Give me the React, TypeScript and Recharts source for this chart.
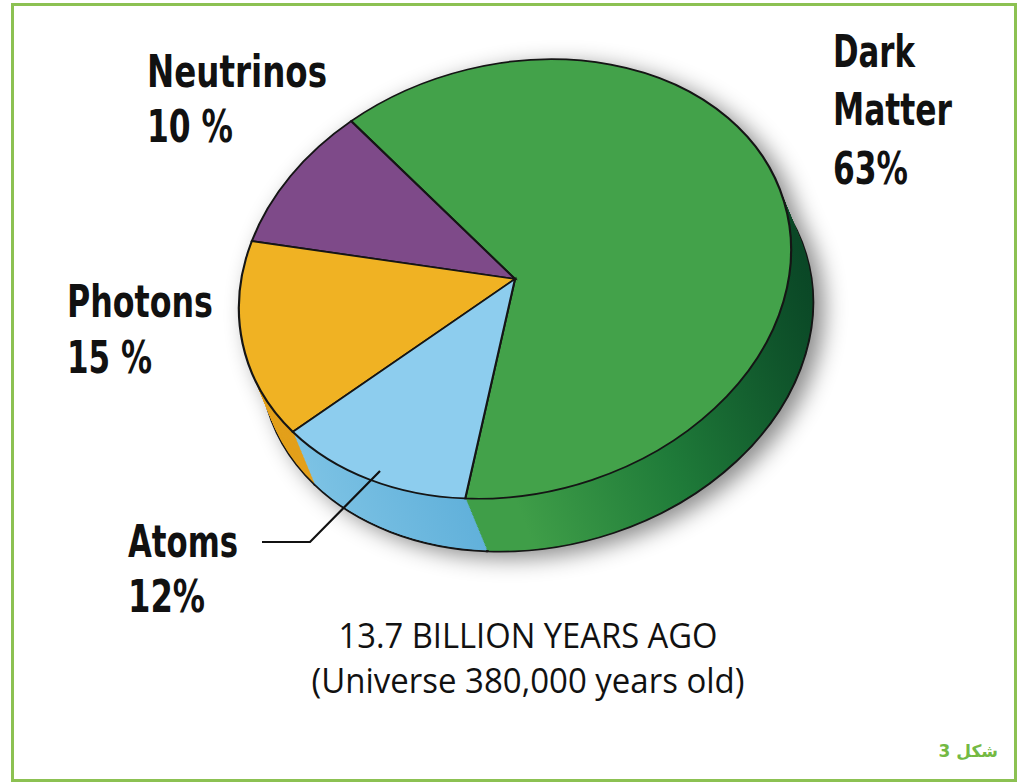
import React from 'react';
import { PieChart, Pie, Cell } from 'recharts';

// chart data
const categories = ['Dark Matter', 'Neutrinos', 'Photons', 'Atoms'];
const shares = [63, 10, 15, 12];
const labelLines = [
  ['Dark', 'Matter', '63%'],
  ['Neutrinos', '10 %'],
  ['Photons', '15 %'],
  ['Atoms', '12%'],
];
const captionLines = ['13.7 BILLION YEARS AGO', '(Universe 380,000 years old)'];
const figureTag = 'شكل 3';

// colours
const topColors = ['#43a24a', '#7e4a89', '#f0b223', '#8dcdee'];
const sideFills = ['url(#sideDark)', '#5c2c67', '#e3a01c', 'url(#sideAtoms)'];

const data = categories.map((name, i) => ({ name, value: shares[i] }));

// layout
const CX = 515;
const CY = 279;
const BOX_W = 700;
const BOX_H = 720;
const PCX = 350;
const PCY = 300;
const R = 280;
const DEPTH_X = 7.5;
const DEPTH_Y = 74;
const STEPS = 40;

const labelLayout = [
  { x: 833, ys: [67, 125, 184], widths: [82, 119, 75] },
  { x: 147, ys: [87, 142], widths: [180, 86] },
  { x: 67, ys: [317, 373], widths: [146, 85] },
  { x: 128, ys: [557, 612], widths: [110, 77] },
];

const labelFont = "'Liberation Sans Narrow', 'DejaVu Sans Condensed', 'Roboto', sans-serif";

export default function App() {
  // stacked copies of the pie build the side wall, bottom first
  const layers = Array.from({ length: STEPS }, (_, i) => 1 - i / (STEPS - 1));

  return (
    <div
      style={{
        position: 'absolute',
        left: 0,
        top: 0,
        width: 1020,
        height: 782,
        background: '#fff',
        overflow: 'hidden',
      }}
    >
      <div
        style={{
          position: 'absolute',
          left: 11,
          top: 3,
          width: 1006,
          height: 779,
          border: '3px solid #8cc152',
          boxSizing: 'border-box',
        }}
      />

      <div style={{ position: 'absolute', left: 0, top: 0, filter: 'drop-shadow(10px 6px 11px rgba(0,0,0,0.45))' }}>
        <div
          style={{
            position: 'absolute',
            left: CX - PCX,
            top: CY - PCY,
            width: BOX_W,
            height: BOX_H,
            transform: 'rotate(-15deg) scaleY(0.767)',
            transformOrigin: `${PCX}px ${PCY}px`,
          }}
        >
          <PieChart width={BOX_W} height={BOX_H} margin={{ top: 0, right: 0, bottom: 0, left: 0 }}>
            <defs>
              <linearGradient id="sideDark" x1="0" y1="0" x2="1" y2="0">
                <stop offset="0.15" stopColor="#3f9e48" />
                <stop offset="0.55" stopColor="#1f7b39" />
                <stop offset="1" stopColor="#0a4726" />
              </linearGradient>
              <linearGradient id="sideAtoms" x1="0" y1="0" x2="1" y2="0">
                <stop offset="0" stopColor="#7cc2e4" />
                <stop offset="1" stopColor="#4fa5d4" />
              </linearGradient>
            </defs>
            {layers.map((t, li) => (
              <Pie
                key={`side-${li}`}
                data={data}
                dataKey="value"
                cx={PCX + DEPTH_X * t}
                cy={PCY + DEPTH_Y * t}
                outerRadius={R}
                startAngle={-112}
                endAngle={248}
                stroke={li === 0 ? '#151515' : 'none'}
                strokeWidth={li === 0 ? 2.4 : 0}
                isAnimationActive={false}
              >
                {data.map((d, i) => (
                  <Cell key={d.name} fill={sideFills[i]} />
                ))}
              </Pie>
            ))}
            <Pie
              data={data}
              dataKey="value"
              cx={PCX}
              cy={PCY}
              outerRadius={R}
              startAngle={-112}
              endAngle={248}
              stroke="#151515"
              strokeWidth={2.2}
              isAnimationActive={false}
            >
              {data.map((d, i) => (
                <Cell key={d.name} fill={topColors[i]} />
              ))}
            </Pie>
          </PieChart>
        </div>
      </div>

      <svg width={1020} height={782} style={{ position: 'absolute', left: 0, top: 0 }}>
        <polyline points="262,542 310,542 380,471" fill="none" stroke="#111" strokeWidth={2.2} />
        {labelLines.map((lines, i) =>
          lines.map((line, j) => (
            <text
              key={`${i}-${j}`}
              x={labelLayout[i].x}
              y={labelLayout[i].ys[j]}
              fontFamily={labelFont}
              fontWeight="bold"
              fontSize={45}
              fill="#111"
              textLength={labelLayout[i].widths[j]}
              lengthAdjust="spacingAndGlyphs"
            >
              {line}
            </text>
          ))
        )}
        {captionLines.map((line, j) => (
          <text
            key={line}
            x={528}
            y={648 + j * 45}
            textAnchor="middle"
            fontFamily="'Open Sans', 'Noto Sans', sans-serif"
            fontSize={34}
            fill="#111"
            textLength={j === 0 ? 379 : 433}
            lengthAdjust="spacingAndGlyphs"
          >
            {line}
          </text>
        ))}
        <text
          x={998}
          y={757}
          textAnchor="end"
          fontFamily="'DejaVu Sans', sans-serif"
          fontWeight="bold"
          fontSize={17}
          fill="#74b943"
        >
          {figureTag}
        </text>
      </svg>
    </div>
  );
}
